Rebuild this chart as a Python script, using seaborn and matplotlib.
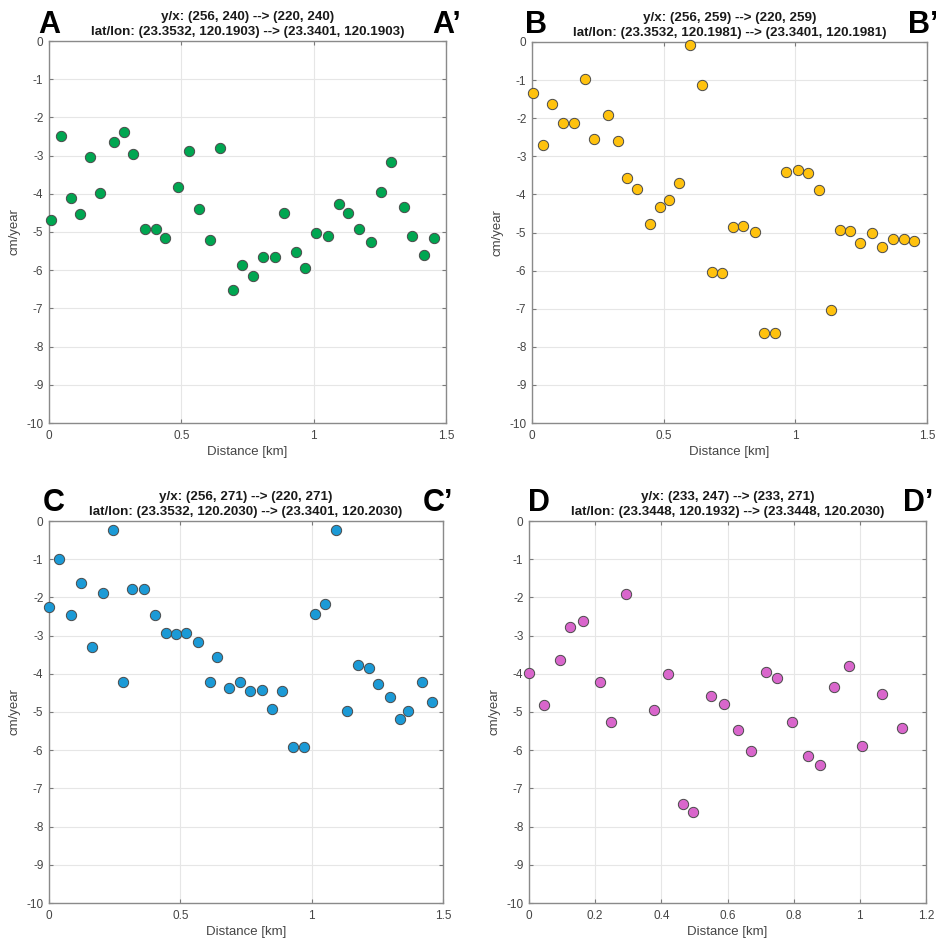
import matplotlib
matplotlib.use("Agg")
import matplotlib.pyplot as plt
import seaborn as sns
import pandas as pd

# Panel A: y/x (256, 240) -> (220, 240)
dist_a = [0.008, 0.045, 0.082, 0.117, 0.156, 0.193, 0.245, 0.283, 0.319, 0.362,
          0.405, 0.438, 0.488, 0.529, 0.566, 0.608, 0.646, 0.696, 0.728, 0.769,
          0.807, 0.853, 0.888, 0.933, 0.969, 1.007, 1.056, 1.094, 1.130, 1.172,
          1.217, 1.254, 1.294, 1.340, 1.373, 1.415, 1.453]
vel_a = [-4.69, -2.49, -4.11, -4.54, -3.04, -3.97, -2.64, -2.37, -2.95, -4.91,
         -4.91, -5.15, -3.83, -2.88, -4.40, -5.21, -2.79, -6.53, -5.87, -6.15,
         -5.65, -5.65, -4.51, -5.52, -5.93, -5.03, -5.10, -4.26, -4.51, -4.93,
         -5.25, -3.96, -3.18, -4.34, -5.10, -5.61, -5.17]

# Panel B: y/x (256, 259) -> (220, 259)
dist_b = [0.005, 0.042, 0.077, 0.119, 0.161, 0.201, 0.236, 0.289, 0.326, 0.361,
          0.399, 0.447, 0.485, 0.522, 0.559, 0.601, 0.644, 0.683, 0.723, 0.765,
          0.803, 0.845, 0.882, 0.924, 0.964, 1.010, 1.048, 1.088, 1.134, 1.169,
          1.206, 1.247, 1.291, 1.329, 1.372, 1.411, 1.451]
vel_b = [-1.35, -2.70, -1.62, -2.13, -2.12, -0.96, -2.54, -1.92, -2.59, -3.58,
         -3.87, -4.78, -4.34, -4.14, -3.71, -0.08, -1.14, -6.03, -6.06, -4.86,
         -4.82, -4.99, -7.64, -7.64, -3.40, -3.36, -3.45, -3.89, -7.03, -4.93,
         -4.97, -5.27, -5.01, -5.37, -5.16, -5.18, -5.22]

# Panel C: y/x (256, 271) -> (220, 271)
dist_c = [0.000, 0.039, 0.084, 0.121, 0.163, 0.206, 0.242, 0.280, 0.315, 0.360,
          0.404, 0.446, 0.484, 0.521, 0.566, 0.613, 0.639, 0.684, 0.728, 0.767,
          0.812, 0.848, 0.886, 0.930, 0.969, 1.012, 1.049, 1.092, 1.134, 1.176,
          1.218, 1.253, 1.297, 1.336, 1.365, 1.420, 1.457]
vel_c = [-2.26, -0.99, -2.47, -1.62, -3.30, -1.89, -0.24, -4.22, -1.77, -1.77,
         -2.47, -2.92, -2.97, -2.92, -3.17, -4.22, -3.55, -4.38, -4.22, -4.45,
         -4.43, -4.93, -4.46, -5.92, -5.92, -2.44, -2.16, -0.24, -4.98, -3.76,
         -3.85, -4.27, -4.62, -5.18, -4.97, -4.22, -4.75]

# Panel D: y/x (233, 247) -> (233, 271)
dist_d = [0.000, 0.046, 0.093, 0.125, 0.164, 0.216, 0.249, 0.292, 0.378, 0.419,
          0.466, 0.497, 0.549, 0.589, 0.633, 0.671, 0.716, 0.749, 0.796, 0.843,
          0.881, 0.922, 0.968, 1.008, 1.066, 1.127]
vel_d = [-3.97, -4.81, -3.65, -2.78, -2.63, -4.22, -5.25, -1.91, -4.96, -4.01,
         -7.41, -7.62, -4.58, -4.79, -5.46, -6.01, -3.96, -4.12, -5.26, -6.15,
         -6.40, -4.35, -3.80, -5.89, -4.54, -5.41]

titles = [
    "y/x: (256, 240) --> (220, 240)\nlat/lon: (23.3532, 120.1903) --> (23.3401, 120.1903)",
    "y/x: (256, 259) --> (220, 259)\nlat/lon: (23.3532, 120.1981) --> (23.3401, 120.1981)",
    "y/x: (256, 271) --> (220, 271)\nlat/lon: (23.3532, 120.2030) --> (23.3401, 120.2030)",
    "y/x: (233, 247) --> (233, 271)\nlat/lon: (23.3448, 120.1932) --> (23.3448, 120.2030)",
]
letters = ["A", "B", "C", "D"]
colors = ["#00A651", "#FFC20E", "#1B9AD6", "#D966CC"]
xmax = [1.5, 1.5, 1.5, 1.2]
xticks = [[0, 0.5, 1, 1.5], [0, 0.5, 1, 1.5], [0, 0.5, 1, 1.5],
          [0, 0.2, 0.4, 0.6, 0.8, 1, 1.2]]
xticklabels = [["0", "0.5", "1", "1.5"]] * 3 + [["0", "0.2", "0.4", "0.6", "0.8", "1", "1.2"]]
yticks = list(range(-10, 1))

data = [(dist_a, vel_a), (dist_b, vel_b), (dist_c, vel_c), (dist_d, vel_d)]

sns.set_style("white")
plt.rcParams["font.family"] = ["Liberation Sans", "DejaVu Sans"]

W, H = 936, 943
fig = plt.figure(figsize=(W / 100, H / 100), dpi=100)

# axes boxes in pixels: left, top, right, bottom
boxes = [(49, 41, 446, 423), (532, 42, 927, 423), (49, 521, 443, 903), (529, 521, 926, 903)]
# letter positions in pixels: (left letter x, right letter x, baseline y)
letter_pos = [(38, 432, 33), (525, 908, 33), (43, 423, 511), (528, 903, 511)]

tick_col = "#454545"
for i, (d, v) in enumerate(data):
    l, t, r, b = boxes[i]
    ax = fig.add_axes([l / W, 1 - b / H, (r - l) / W, (b - t) / H])
    df = pd.DataFrame({"dist": d, "vel": v})
    sns.scatterplot(data=df, x="dist", y="vel", ax=ax, color=colors[i], s=55,
                    edgecolor="#4a4a4a", linewidth=0.7, clip_on=False, zorder=3)
    ax.set_xlim(0, xmax[i])
    ax.set_ylim(-10, 0)
    ax.set_xticks(xticks[i])
    ax.set_xticklabels(xticklabels[i])
    ax.set_yticks(yticks)
    ax.set_yticklabels([str(y) for y in yticks])
    ax.grid(True, color="#E6E6E6", linewidth=0.8, zorder=0)
    ax.set_axisbelow(True)
    ax.tick_params(direction="in", length=3, width=0.8, color="#7a7a7a",
                   labelsize=8.5, labelcolor=tick_col, top=True, right=True,
                   bottom=True, left=True)
    ax.tick_params(axis="x", pad=5)
    ax.tick_params(axis="y", pad=4)
    for sp in ax.spines.values():
        sp.set_color("#8a8a8a")
        sp.set_linewidth(1.0)
    ax.set_xlabel("Distance [km]", fontsize=9.5, color=tick_col, labelpad=3)
    ax.set_ylabel("cm/year", fontsize=9.5, color=tick_col, labelpad=4)
    ax.set_title(titles[i], fontsize=9.6, fontweight="bold", color="#1a1a1a",
                 pad=4, linespacing=1.35)

    lx, rx, by = letter_pos[i]
    fig.text(lx / W, 1 - by / H, letters[i], fontsize=22, fontweight="bold",
             ha="left", va="baseline", color="black")
    fig.text(rx / W, 1 - by / H, letters[i] + "\u2019", fontsize=22, fontweight="bold",
             ha="left", va="baseline", color="black")

fig.savefig("out.png", dpi=100)
